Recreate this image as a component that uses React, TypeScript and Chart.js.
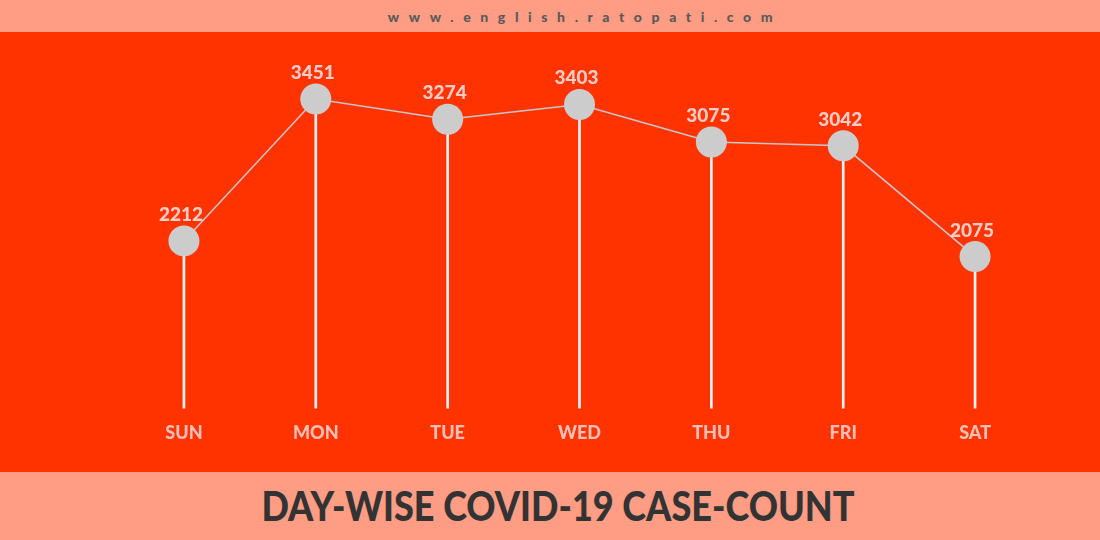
import React, { useEffect, useRef } from "react";
import { Chart, registerables } from "chart.js";

Chart.register(...registerables);

const days = ["SUN", "MON", "TUE", "WED", "THU", "FRI", "SAT"];
const cases = [2212, 3451, 3274, 3403, 3075, 3042, 2075];
const yMin = 750;
const yMax = 3900;

const SALMON = "#ff9c84";
const RED = "#ff3300";

const valueLabels = {
  id: "valueLabels",
  afterDatasetsDraw(chart: any) {
    const meta = chart.getDatasetMeta(0);
    const ctx = chart.ctx;
    ctx.save();
    ctx.font = "900 19px Lato, 'Open Sans', sans-serif";
    ctx.fillStyle = "#ffcdc5";
    ctx.textAlign = "center";
    ctx.textBaseline = "alphabetic";
    meta.data.forEach((pt: any, i: number) => {
      ctx.fillText(String(cases[i]), pt.x - 3, pt.y - 20);
    });
    ctx.restore();
  },
};

export default function App() {
  const ref = useRef<HTMLCanvasElement | null>(null);
  useEffect(() => {
    document.body.style.margin = "0";
    const chart = new Chart(ref.current as HTMLCanvasElement, {
      type: "line",
      data: {
        labels: days,
        datasets: [
          {
            type: "line",
            data: cases,
            borderColor: "#c8c8c8",
            borderWidth: 1.5,
            pointRadius: 15.5,
            pointHoverRadius: 15.5,
            pointBackgroundColor: "#cccccc",
            pointBorderWidth: 0,
            tension: 0,
            order: 0,
          } as any,
          {
            type: "bar",
            data: cases,
            backgroundColor: "#f4f4f4",
            barThickness: 2,
            order: 1,
          } as any,
        ],
      },
      options: {
        responsive: false,
        animation: false,
        layout: { padding: { left: 118, right: 59, top: 10, bottom: 22 } },
        plugins: { legend: { display: false }, tooltip: { enabled: false } },
        scales: {
          x: {
            offset: true,
            grid: { display: false },
            border: { display: false },
            ticks: {
              color: "#ffbfb5",
              padding: 6,
              font: { family: "Lato, 'Open Sans', sans-serif", size: 18, weight: "900" as any },
            },
          },
          y: {
            display: false,
            min: yMin,
            max: yMax,
          },
        },
      },
      plugins: [valueLabels],
    });
    return () => chart.destroy();
  }, []);

  return (
    <div style={{ position: "absolute", left: 0, top: 0, width: 1100, height: 540, overflow: "hidden" }}>
      <div
        style={{
          position: "absolute", left: 0, top: 0, width: 1100, height: 32, background: SALMON,
          display: "flex", alignItems: "center", justifyContent: "center",
        }}
      >
        <span
          style={{
            fontFamily: "Lato, 'Open Sans', sans-serif", fontWeight: 900, fontSize: 14,
            letterSpacing: 9.6, color: "#5a5a5a", marginLeft: 70,
          }}
        >
          www.english.ratopati.com
        </span>
      </div>
      <div style={{ position: "absolute", left: 0, top: 32, width: 1100, height: 440, background: RED }}>
        <canvas ref={ref} width={1100} height={440} style={{ display: "block" }} />
      </div>
      <div
        style={{
          position: "absolute", left: 0, top: 472, width: 1100, height: 68, background: SALMON,
          display: "flex", alignItems: "center", justifyContent: "center",
        }}
      >
        <span
          style={{
            fontFamily: "Lato, 'Open Sans', sans-serif", fontWeight: 900, fontSize: 41,
            color: "#333333", marginLeft: 16, marginTop: -2, display: "inline-block",
            transform: "scaleX(0.88)", whiteSpace: "nowrap",
          }}
        >
          DAY-WISE COVID-19 CASE-COUNT
        </span>
      </div>
    </div>
  );
}
